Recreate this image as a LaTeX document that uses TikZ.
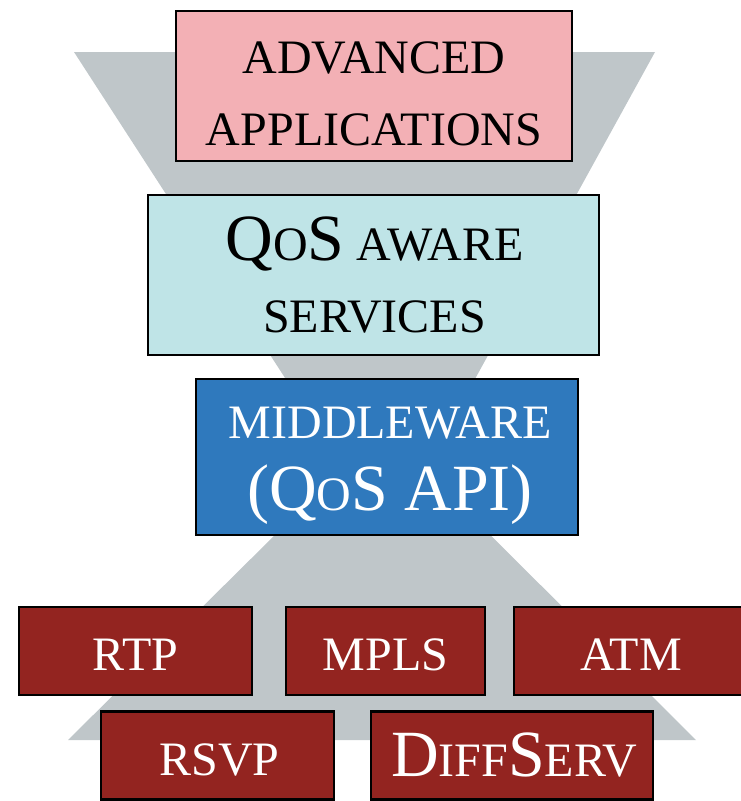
\documentclass[tikz,border=0pt]{standalone}
\usepackage{fontspec}
\setmainfont{Liberation Serif}
\definecolor{apppink}{HTML}{F3B0B5}
\definecolor{qoscyan}{HTML}{BFE4E7}
\definecolor{midblue}{HTML}{2F79BD}
\definecolor{protored}{HTML}{932420}
\definecolor{hourgray}{HTML}{BFC6C9}
\newcommand{\biglet}[1]{{\fontsize{66}{72}\selectfont #1}}

\begin{document}
\begin{tikzpicture}[x=1pt,y=-1pt,
  layer/.style={draw=black,line width=2.5pt,inner sep=0pt},
  caption/.style={align=center,inner sep=0pt,font=\fontsize{48}{72}\selectfont},
  proto/.style={layer,fill=protored,minimum height=88pt},
  protocap/.style={caption,text=white}]
\useasboundingbox (0,0) rectangle (740,801);
\fill[hourgray] (74,52) -- (655,52) -- (388,537) -- cycle;
\fill[hourgray] (68,740) -- (696,740) -- (383,428) -- cycle;
\node[layer,fill=apppink,minimum width=396pt,minimum height=150pt] (adv) at (374,86) {};
\node[caption] (advtext) at ([yshift=-8pt]adv.center) {ADVANCED\\APPLICATIONS};
\node[layer,fill=qoscyan,minimum width=451pt,minimum height=160pt] (qos) at (373.5,275) {};
\node[caption] (qostext) at ([xshift=1pt]qos.center) {\biglet{Q}O\biglet{S} AWARE\\SERVICES};
\node[layer,fill=midblue,minimum width=382pt,minimum height=156pt] (mid) at (387,457) {};
\node[caption,text=white] (midtext) at ([xshift=3pt,yshift=-9pt]mid.center) {MIDDLEWARE\\\biglet{(Q}O\biglet{S API)}};
\node[proto,minimum width=233pt] (rtp) at (135.5,651) {};
\node[protocap] (rtptext) at ([yshift=-4pt]rtp.center) {RTP};
\node[proto,minimum width=199pt] (mpls) at (385.5,651) {};
\node[protocap] (mplstext) at ([yshift=-4pt]mpls.center) {MPLS};
\node[proto,minimum width=228pt] (atm) at (628,651) {};
\node[protocap] (atmtext) at ([xshift=3pt,yshift=-4pt]atm.center) {ATM};
\node[proto,minimum width=233pt] (rsvp) at (217.5,755.5) {};
\node[protocap] (rsvptext) at ([xshift=2pt,yshift=-4pt]rsvp.center) {RSVP};
\node[proto,minimum width=282pt] (diffserv) at (512,755.5) {};
\node[protocap] (diffservtext) at ([xshift=2pt]diffserv.center) {\biglet{D}IFF\biglet{S}ERV};
\end{tikzpicture}
\end{document}
